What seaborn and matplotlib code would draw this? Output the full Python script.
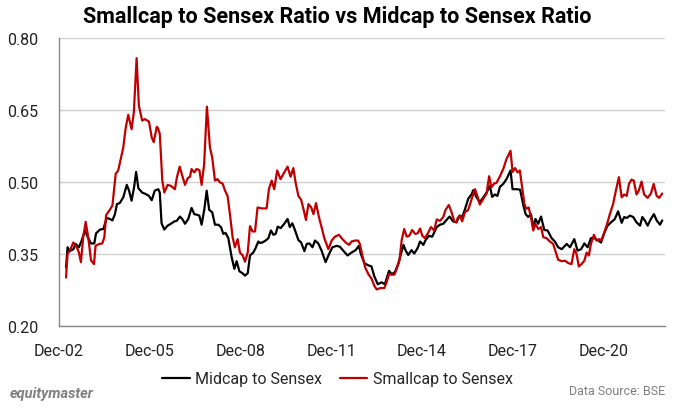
import numpy as np
import pandas as pd
import matplotlib
matplotlib.use("Agg")
import matplotlib.pyplot as plt
import matplotlib.dates as mdates
import seaborn as sns

# months elapsed since Dec-2002, and ratio values
mid_months = [2.8, 3.4, 4.3, 5.7, 6.6, 7.9, 9.0, 10.3, 11.6, 12.7, 14.0, 14.7, 16.3, 17.6, 18.9, 20.2, 21.2, 22.2, 23.0, 24.1, 25.5, 26.9, 27.8, 28.8, 29.8, 30.6, 31.5, 33.0, 34.4, 35.7, 36.8, 38.0, 39.4, 40.0,
              40.7, 41.8, 43.1, 44.4, 45.8, 46.7, 48.0, 48.9, 50.0, 51.3, 52.6, 53.7, 54.6, 55.7, 56.6, 57.7, 58.6, 59.6, 60.8, 61.9, 63.2, 64.3, 65.2, 66.1, 67.2, 68.5, 69.6, 70.5, 71.6, 72.8, 73.8, 74.9, 75.8, 77.1, 78.0, 79.1, 79.8,
              80.7, 82.0, 83.1, 84.1, 85.1, 86.0, 86.8, 88.0, 89.4, 90.7, 91.6, 92.6, 93.7, 95.0, 96.1, 97.4, 98.3, 99.4, 100.6, 101.6, 102.9, 104.2, 105.8, 107.1, 108.5, 110.2, 111.5, 112.8, 114.5, 116.1, 117.7, 119.0,
              119.8, 121.2, 122.5, 124.0, 125.1, 126.5, 128.0, 129.3, 131.0, 132.0, 133.3, 134.6, 135.7, 136.7, 137.6, 138.6, 139.9, 141.0, 142.3, 143.3, 144.6, 145.5, 146.8, 148.1, 149.9, 151.2, 152.5, 153.8, 155.0, 156.4, 157.7, 159.0,
              160.0, 161.1, 162.4, 163.8, 164.4, 165.7, 167.0, 168.4, 169.7, 171.0, 171.9, 173.0, 174.0, 175.0, 176.3, 177.6, 179.2, 180.0, 181.6, 183.0, 184.3, 185.2, 186.2, 187.3, 188.2, 189.1, 190.2, 191.3, 192.6, 193.9, 195.5, 196.8, 198.1,
              199.5, 201.5, 202.8, 204.5, 205.8, 207.2, 208.5, 209.8, 211.1, 212.4, 213.8, 215.1, 216.4, 217.7, 219.1, 220.6, 221.9, 223.3, 224.3, 225.3, 226.6, 227.9, 229.2, 230.6, 231.5, 232.5, 233.6, 234.9, 236.1, 237.2, 238.5, 239.4]
mid_vals = [0.322, 0.364, 0.356, 0.360, 0.371, 0.364, 0.378, 0.399, 0.383, 0.372, 0.372, 0.393, 0.401, 0.402, 0.425, 0.423, 0.420, 0.433, 0.454, 0.456, 0.468, 0.494, 0.482, 0.461, 0.489, 0.521, 0.487, 0.478, 0.475, 0.471, 0.462, 0.482, 0.485, 0.478,
            0.414, 0.401, 0.409, 0.413, 0.418, 0.419, 0.428, 0.423, 0.413, 0.423, 0.446, 0.433, 0.432, 0.430, 0.411, 0.444, 0.482, 0.442, 0.437, 0.411, 0.411, 0.406, 0.392, 0.394, 0.383, 0.344, 0.319, 0.335, 0.314, 0.310, 0.305, 0.310, 0.347, 0.353, 0.362, 0.376, 0.373,
            0.374, 0.378, 0.383, 0.399, 0.390, 0.392, 0.407, 0.404, 0.413, 0.423, 0.406, 0.414, 0.399, 0.379, 0.374, 0.356, 0.371, 0.372, 0.364, 0.378, 0.372, 0.357, 0.333, 0.349, 0.364, 0.367, 0.365, 0.357, 0.347, 0.353, 0.358, 0.367,
            0.350, 0.331, 0.327, 0.324, 0.304, 0.287, 0.291, 0.287, 0.315, 0.308, 0.312, 0.329, 0.350, 0.369, 0.357, 0.348, 0.358, 0.351, 0.362, 0.376, 0.369, 0.379, 0.388, 0.386, 0.406, 0.411, 0.413, 0.421, 0.428, 0.418, 0.416, 0.430,
            0.427, 0.443, 0.465, 0.475, 0.483, 0.468, 0.458, 0.468, 0.478, 0.492, 0.469, 0.474, 0.471, 0.490, 0.496, 0.506, 0.524, 0.485, 0.485, 0.484, 0.451, 0.433, 0.427, 0.433, 0.406, 0.423, 0.413, 0.428, 0.400, 0.399, 0.383, 0.376, 0.364,
            0.360, 0.371, 0.364, 0.381, 0.357, 0.360, 0.372, 0.364, 0.383, 0.383, 0.379, 0.374, 0.394, 0.409, 0.416, 0.423, 0.439, 0.415, 0.427, 0.425, 0.430, 0.427, 0.416, 0.409, 0.427, 0.420, 0.409, 0.423, 0.433, 0.420, 0.411, 0.420]

small_months = [2.8, 3.4, 4.3, 5.7, 7.0, 7.9, 8.7, 9.6, 10.6, 11.6, 12.7, 13.9, 14.5, 16.0, 17.2, 18.0, 18.7, 19.9, 21.2, 22.5, 23.5, 24.6, 25.5, 26.5, 27.5, 28.8, 29.7, 30.8, 31.7, 33.0, 34.1, 35.7, 36.8, 37.6, 38.8, 39.3, 40.0,
                41.0, 41.8, 43.1, 44.4, 46.0, 46.8, 47.9, 48.7, 50.0, 51.1, 52.0, 52.6, 53.7, 54.6, 55.7, 56.6, 57.6, 58.7, 59.9, 60.8, 61.9, 62.9, 63.9, 64.9, 65.9, 66.9, 67.9, 68.9, 69.8, 70.9, 71.8, 72.9, 73.8, 74.9, 75.8, 76.8, 77.8, 78.8,
                80.4, 82.4, 83.3, 84.4, 85.4, 86.6, 87.9, 89.4, 90.7, 91.9, 93.0, 93.9, 95.0, 96.1, 97.0, 98.0, 99.0, 100.1, 101.0, 102.0, 103.2, 104.2, 105.3, 106.9, 108.2, 109.5, 111.1, 112.5, 113.8, 115.1, 116.1, 117.5, 118.7,
                119.4, 120.4, 121.5, 122.8, 124.1, 125.1, 126.1, 127.4, 129.1, 130.0, 131.0, 132.0, 133.1, 134.0, 135.1, 136.0, 137.0, 138.0, 139.0, 140.2, 141.3, 142.3, 143.3, 144.2, 145.2, 146.6, 147.6, 148.9, 149.9, 151.2, 152.5, 153.4, 154.7, 155.8, 156.9, 157.8, 158.2,
                158.2, 159.1, 160.0, 161.1, 162.4, 163.8, 165.1, 166.2, 167.0, 168.4, 169.7, 170.7, 171.6, 172.7, 173.6, 175.0, 176.3, 177.6, 179.2, 180.0, 181.0, 182.0, 182.9, 183.9, 184.7, 185.5, 186.4, 187.3, 188.2, 189.1, 190.2, 191.3, 192.2, 193.5, 194.8, 196.1, 197.2, 198.1,
                199.5, 200.8, 202.1, 203.4, 204.5, 205.4, 206.3, 207.4, 208.5, 209.4, 210.3, 211.1, 212.3, 213.3, 214.4, 215.3, 216.4, 217.6, 218.6, 219.9, 221.0, 222.2, 223.3, 224.3, 225.3, 226.2, 227.2, 228.1, 229.2, 230.1, 231.2, 232.2, 233.6, 234.9, 236.0, 237.2, 238.2, 239.4]
small_vals = [0.301, 0.350, 0.357, 0.374, 0.365, 0.353, 0.333, 0.385, 0.417, 0.385, 0.337, 0.329, 0.367, 0.371, 0.372, 0.385, 0.431, 0.440, 0.451, 0.517, 0.524, 0.550, 0.572, 0.614, 0.640, 0.610, 0.645, 0.758, 0.659, 0.628, 0.631, 0.626, 0.593, 0.583, 0.615, 0.612, 0.600,
              0.503, 0.478, 0.494, 0.492, 0.485, 0.510, 0.532, 0.517, 0.494, 0.508, 0.511, 0.527, 0.520, 0.527, 0.525, 0.494, 0.537, 0.657, 0.572, 0.551, 0.503, 0.506, 0.499, 0.497, 0.482, 0.471, 0.430, 0.385, 0.364, 0.381, 0.353, 0.347, 0.334, 0.353, 0.408, 0.397, 0.397, 0.447,
              0.445, 0.445, 0.485, 0.503, 0.485, 0.524, 0.506, 0.520, 0.532, 0.511, 0.529, 0.499, 0.471, 0.463, 0.444, 0.421, 0.454, 0.447, 0.433, 0.456, 0.426, 0.406, 0.383, 0.360, 0.378, 0.386, 0.390, 0.381, 0.374, 0.369, 0.376, 0.378, 0.378,
              0.371, 0.347, 0.322, 0.308, 0.298, 0.284, 0.276, 0.279, 0.279, 0.291, 0.308, 0.307, 0.307, 0.319, 0.336, 0.379, 0.402, 0.386, 0.388, 0.400, 0.392, 0.393, 0.403, 0.388, 0.383, 0.395, 0.406, 0.399, 0.422, 0.419, 0.427, 0.442, 0.452, 0.437, 0.418, 0.416, 0.425,
              0.425, 0.430, 0.418, 0.437, 0.442, 0.465, 0.485, 0.468, 0.453, 0.465, 0.476, 0.512, 0.489, 0.497, 0.498, 0.512, 0.527, 0.548, 0.565, 0.521, 0.529, 0.520, 0.524, 0.485, 0.454, 0.444, 0.447, 0.427, 0.399, 0.413, 0.402, 0.406, 0.385, 0.383, 0.376, 0.371, 0.353, 0.338,
              0.335, 0.336, 0.331, 0.329, 0.360, 0.350, 0.324, 0.329, 0.336, 0.353, 0.347, 0.371, 0.390, 0.378, 0.381, 0.379, 0.395, 0.414, 0.433, 0.454, 0.482, 0.510, 0.468, 0.474, 0.471, 0.496, 0.505, 0.503, 0.474, 0.482, 0.501, 0.474, 0.467, 0.476, 0.496, 0.471, 0.467, 0.476]

series_names = ["Midcap to Sensex", "Smallcap to Sensex"]
tick_years = [2002, 2005, 2008, 2011, 2014, 2017, 2020]
y_ticks = [0.20, 0.35, 0.50, 0.65, 0.80]

start = pd.Timestamp("2002-12-01")
def to_dates(months):
    return [start + pd.Timedelta(days=float(m) * 30.44) for m in months]

n1 = min(len(mid_months), len(mid_vals))
n2 = min(len(small_months), len(small_vals))
df = pd.concat([
    pd.DataFrame({"date": to_dates(mid_months[:n1]), "value": mid_vals[:n1], "series": series_names[0]}),
    pd.DataFrame({"date": to_dates(small_months[:n2]), "value": small_vals[:n2], "series": series_names[1]}),
])

sns.set_theme(style="white")
plt.rcParams["font.family"] = ["Roboto", "DejaVu Sans"]

fig = plt.figure(figsize=(6.75, 4.1), dpi=100)
ax = fig.add_axes([59/675, 1 - 327/410, (665 - 59)/675, (327 - 39)/410])

sns.lineplot(data=df, x="date", y="value", hue="series", hue_order=series_names,
             palette={series_names[0]: "#000000", series_names[1]: "#C00000"},
             linewidth=1.6, ax=ax, estimator=None, sort=True)

ax.set_ylim(0.20, 0.80)
ax.set_yticks(y_ticks)
ax.set_yticklabels([f"{v:.2f}" for v in y_ticks])
ax.set_xlim(start, start + pd.Timedelta(days=240.5 * 30.44))
ax.set_xticks([pd.Timestamp(f"{y}-12-01") for y in tick_years])
ax.set_xticklabels([f"Dec-{y % 100:02d}" for y in tick_years])
ax.grid(axis="y", color="#d0d0d0", linewidth=1)
ax.grid(axis="x", visible=False)
for s in ["top", "right"]:
    ax.spines[s].set_visible(False)
for s in ["left", "bottom"]:
    ax.spines[s].set_color("#888888")
    ax.spines[s].set_linewidth(1)
ax.tick_params(axis="both", which="major", direction="out", length=5, width=1,
               color="#888888", labelsize=11.5, labelcolor="#222222")
ax.tick_params(axis="y", pad=10)
ax.tick_params(axis="x", pad=7)
ax.set_xlabel("")
ax.set_ylabel("")

ax.legend_.remove()
handles, labels = ax.get_legend_handles_labels()
fig.legend(handles, labels, loc="center", bbox_to_anchor=(0.5, 1 - 380/410), ncol=2,
           frameon=False, fontsize=11.5, handlelength=1.7, handletextpad=0.35, columnspacing=1.1)

fig.text(0.5, 1 - 17/410, "Smallcap to Sensex Ratio vs Midcap to Sensex Ratio",
         ha="center", va="center", fontsize=15.5, fontweight="bold", color="#000000")
fig.text(10/675, 1 - 394/410, "equitymaster", ha="left", va="center", fontsize=10.5,
         fontweight="bold", fontstyle="italic", color="#808080")
fig.text(665/675, 1 - 392/410, "Data Source: BSE", ha="right", va="center", fontsize=9,
         color="#808080")

fig.savefig("out.png", dpi=100)
